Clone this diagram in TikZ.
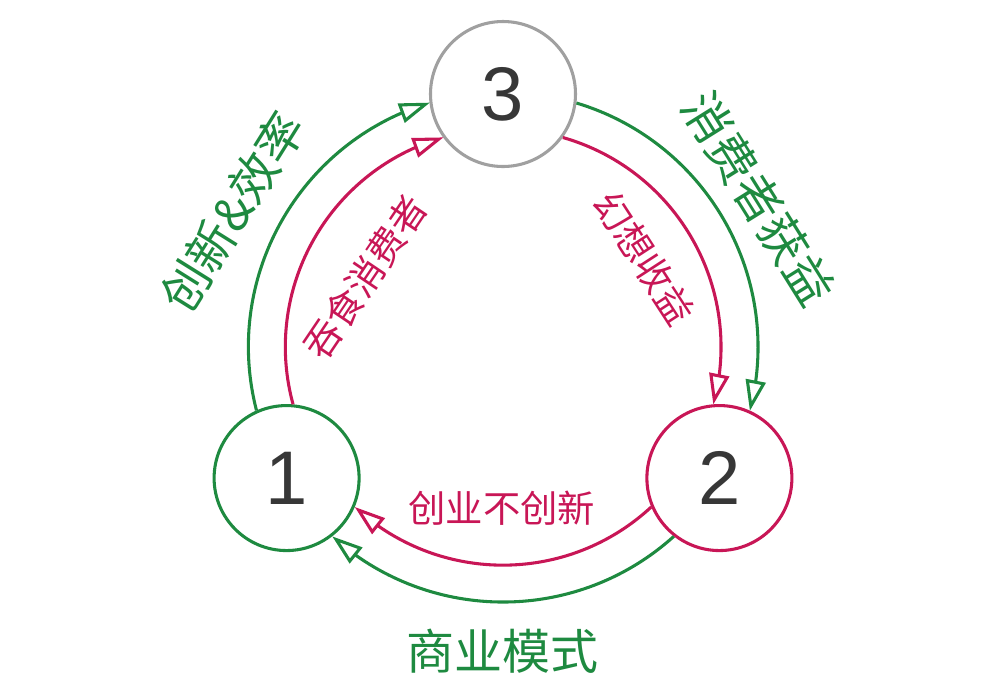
\documentclass[tikz,border=0pt]{standalone}
\usepackage{fontspec}
\setmainfont{Liberation Sans}
\newfontfamily\cjk{Noto Sans CJK SC}
\usetikzlibrary{arrows.meta,bending}
\definecolor{cgreen}{RGB}{30,138,64}
\definecolor{cred}{RGB}{200,22,86}
\definecolor{cgray}{RGB}{160,160,160}
\definecolor{cdigit}{RGB}{55,55,55}
\begin{document}
\begin{tikzpicture}[x=0.75pt,y=0.75pt,
  stage/.style={circle,draw,line width=2.3pt,minimum size=108.75pt,inner sep=0pt,fill=white,text=cdigit,font=\fontsize{57}{57}\selectfont},
  flow/.style={line width=2.3pt,-{Triangle[open,length=23pt,width=15pt]}},
  glabel/.style={text=cgreen,inner sep=0pt,font=\cjk\fontsize{36}{36}\selectfont},
  rlabel/.style={text=cred,inner sep=0pt,font=\cjk\fontsize{28}{28}\selectfont}]
\useasboundingbox (-503,-340) rectangle (497,347);
\coordinate (C) at (0,0);
\node[stage,draw=cgray] (n3) at (90:253) {3};
\node[stage,draw=cgreen] (n1) at (211.2:253) {1};
\node[stage,draw=cred] (n2) at (-31.2:253) {2};
% green outer cycle
\draw[flow,cgreen] (n1.114) arc[start angle=194.45,end angle=106.75,radius=191.25pt];
\draw[flow,cgreen] (n3.-7) arc[start angle=73.25,end angle=-14.45,radius=191.25pt];
\draw[flow,cgreen] (n2.-128) arc[start angle=-47.95,end angle=-132.05,radius=191.25pt];
% red inner cycle
\draw[flow,cred] (n1.85) arc[start angle=195.25,end angle=105.95,radius=163.5pt];
\draw[flow,cred] (n3.-36) arc[start angle=74.05,end angle=-15.25,radius=163.5pt];
\draw[flow,cred] (n2.-157) arc[start angle=-47.15,end angle=-132.85,radius=163.5pt];
% labels
\node[glabel,rotate=58] (l13) at (-270.5,135) {创新\&效率};
\node[glabel,rotate=-58] (l32) at (255.5,148.5) {消费者获益};
\node[glabel] (l21) at (-0.5,-304) {商业模式};
\node[rlabel,rotate=56] (r13) at (-138,70) {吞食消费者};
\node[rlabel,rotate=-57] (r32) at (141.5,89) {幻想收益};
\node[rlabel] (r21) at (-1,-161.5) {创业不创新};
\end{tikzpicture}
\end{document}
